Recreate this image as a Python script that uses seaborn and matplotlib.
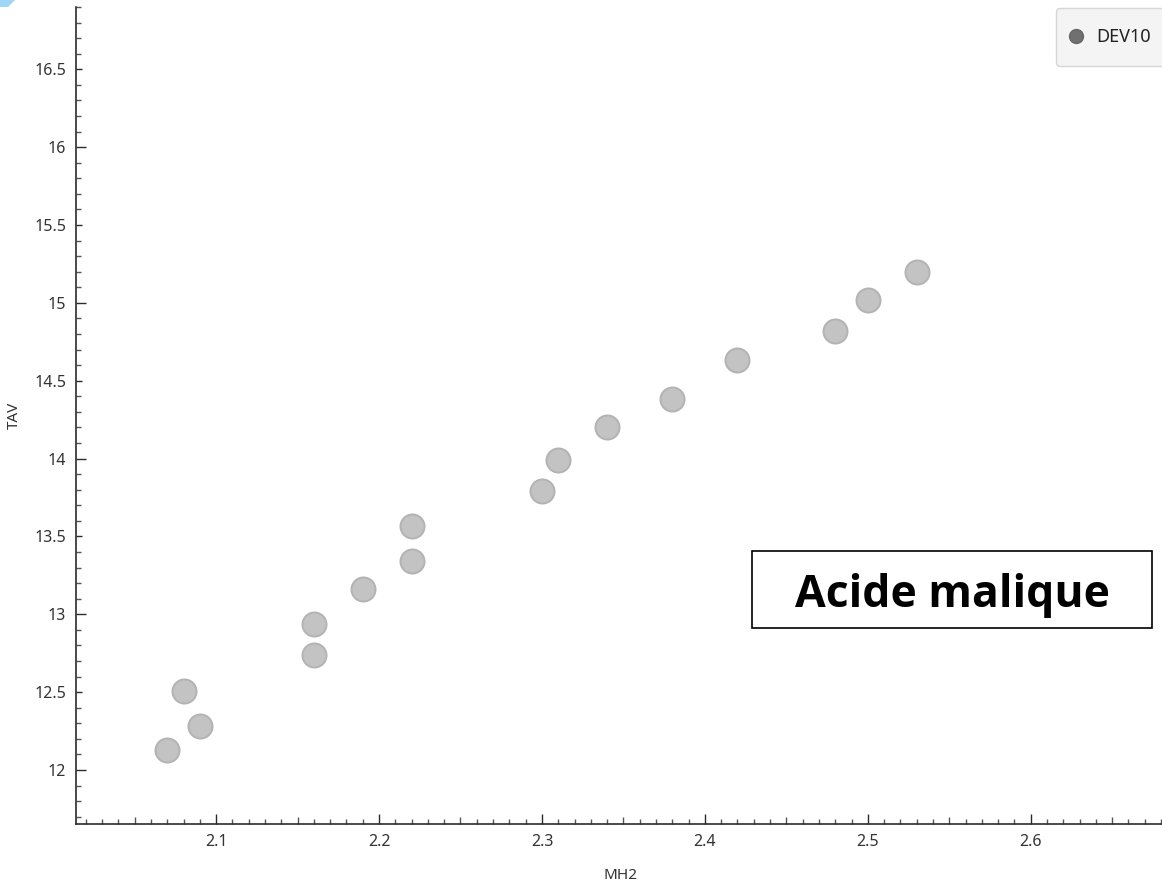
import numpy as np
import pandas as pd
import seaborn as sns
import matplotlib
matplotlib.use("Agg")
import matplotlib.pyplot as plt
from matplotlib.lines import Line2D
from matplotlib.patches import Polygon

# Malic acid: MH2 vs TAV for group DEV10
mh2 = [2.07, 2.08, 2.09, 2.16, 2.16, 2.19, 2.22, 2.22, 2.30, 2.31, 2.34, 2.38, 2.42, 2.48, 2.50, 2.53]
tav = [12.13, 12.51, 12.28, 12.74, 12.94, 13.16, 13.34, 13.57, 13.79, 13.99, 14.20, 14.38, 14.63, 14.82, 15.02, 15.20]
group = "DEV10"
x_label = "MH2"
y_label = "TAV"
title_box = "Acide malique"

x_major = [2.1, 2.2, 2.3, 2.4, 2.5, 2.6]
y_major = [12, 12.5, 13, 13.5, 14, 14.5, 15, 15.5, 16, 16.5]

df = pd.DataFrame({x_label: mh2, y_label: tav, "group": group})

sns.set_theme(style="white")
plt.rcParams["font.family"] = ["Noto Sans", "DejaVu Sans"]

W, H = 1162, 885
fig = plt.figure(figsize=(W / 100, H / 100), dpi=100)
ax = fig.add_axes([76 / W, 61 / H, 1 - 76 / W + 0.002, (824 - 7) / H])

sns.scatterplot(data=df, x=x_label, y=y_label, ax=ax, s=300,
                color="#c3c3c3", edgecolor="#b3b3b3", linewidth=1.4,
                legend=False, zorder=3)

ax.set_xlim(2.014, 2.682)
ax.set_ylim(11.653, 16.9)

for side in ["top", "right"]:
    ax.spines[side].set_visible(False)
for side in ["left", "bottom"]:
    ax.spines[side].set_color("#2b2b2b")
    ax.spines[side].set_linewidth(1.2)

# x ticks: labelled every 0.1, mid marks at 0.05, small marks every 0.01
ax.set_xticks(x_major)
ax.set_xticklabels([f"{v:g}" for v in x_major])
x_minor = [round(2.02 + 0.01 * i, 2) for i in range(67)]
x_minor = [v for v in x_minor if all(abs(v - m) > 1e-6 for m in x_major) and v <= 2.68]
ax.set_xticks(x_minor, minor=True)

# y ticks: labelled every 0.5, long marks at integers, small marks every 0.1
ax.set_yticks(y_major)
ax.set_yticklabels([f"{v:g}" for v in y_major])
y_minor = [round(11.7 + 0.1 * i, 1) for i in range(53)]
y_minor = [v for v in y_minor if all(abs(v - m) > 1e-6 for m in y_major) and v <= 16.9]
ax.set_yticks(y_minor, minor=True)

ax.tick_params(axis="both", which="both", direction="in", color="#2b2b2b",
               bottom=True, left=True, top=False, right=False,
               width=1.0, labelsize=11.5, labelcolor="#333333")
ax.tick_params(axis="both", which="major", length=7.2, pad=7)
ax.tick_params(axis="both", which="minor", length=3.4, color="#555555")

for v, t in zip(x_minor, ax.xaxis.get_minor_ticks()):
    if abs(round(v * 100) % 10 - 5) < 1e-6:
        t.tick1line.set_markersize(5.0)
for v, t in zip(y_major, ax.yaxis.get_major_ticks()):
    if abs(v - round(v)) > 1e-6:
        t.tick1line.set_markersize(4.5)

ax.set_xlabel(x_label, fontsize=11, color="#333333", labelpad=13)
ax.set_ylabel(y_label, fontsize=11, color="#333333", labelpad=9)

# Legend
handle = Line2D([], [], marker="o", linestyle="none", markersize=10,
                markerfacecolor="#707070", markeredgecolor="#666666")
leg = ax.legend([handle], [group], loc="upper left",
                bbox_to_anchor=(1056 / W, 1 - 8 / H), bbox_transform=fig.transFigure,
                frameon=True, fontsize=13, handletextpad=1.15, borderpad=1.1,
                handlelength=0.0, borderaxespad=0, fancybox=True)
leg.get_frame().set_facecolor("#f4f4f4")
leg.get_frame().set_edgecolor("#d6d6d6")
leg.get_frame().set_alpha(1)
for txt in leg.get_texts():
    txt.set_color("#222222")

# Title box
fig.text(952 / W, 1 - 595 / H, title_box, ha="center", va="center",
         fontsize=32, fontweight="bold", color="black", family=["Open Sans", "DejaVu Sans"])
box = plt.Rectangle((752 / W, 1 - 628 / H), 400 / W, 77 / H, transform=fig.transFigure,
                    facecolor="none", edgecolor="black", linewidth=1.2)
fig.patches.append(box)

# corner mark
tri = Polygon([(0, 1), (15 / W, 1), (8 / W, 1 - 7 / H), (0, 1 - 7 / H)],
              closed=True, transform=fig.transFigure, facecolor="#9fd6f5", edgecolor="none")
fig.patches.append(tri)

fig.savefig("out.png", dpi=100)
